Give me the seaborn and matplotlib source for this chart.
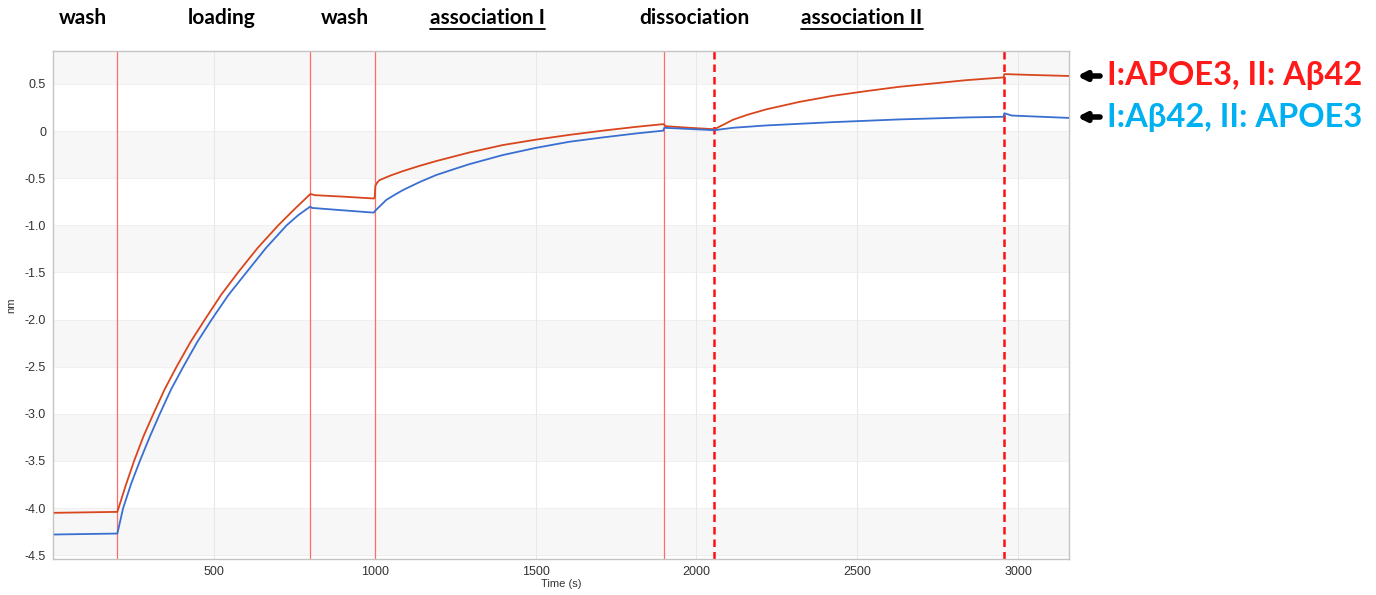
import numpy as np
import pandas as pd
import seaborn as sns
import matplotlib.pyplot as plt
from matplotlib.lines import Line2D
from matplotlib.ticker import MultipleLocator, FuncFormatter

# Sensorgram values (time in s, shift in nm)
red_time = [5, 200, 226, 252, 281, 312, 347, 384, 427, 472, 522, 575, 636, 700, 750, 800,
            815, 900, 997,
            1000, 1002, 1008, 1015, 1050, 1088, 1140, 1191, 1295, 1398, 1502, 1605, 1709, 1812, 1897,
            1905, 1980, 2056,
            2070, 2085, 2113, 2160, 2216, 2320, 2423, 2527, 2630, 2734, 2837, 2955,
            2957, 3050, 3158]
red_nm = [-4.05, -4.04, -3.76, -3.50, -3.24, -3.00, -2.74, -2.50, -2.24, -2.00, -1.74, -1.50, -1.24, -1.00, -0.83, -0.667,
          -0.68, -0.695, -0.715,
          -0.70, -0.58, -0.545, -0.52, -0.47, -0.424, -0.368, -0.318, -0.226, -0.148, -0.09, -0.04, 0.005, 0.045, 0.074,
          0.052, 0.035, 0.02,
          0.045, 0.07, 0.12, 0.175, 0.23, 0.31, 0.374, 0.424, 0.47, 0.505, 0.54, 0.57,
          0.605, 0.595, 0.585]

blue_time = [5, 200, 218, 243, 270, 300, 332, 367, 405, 448, 493, 545, 601, 662, 726, 763, 800,
             805, 900, 997,
             1000, 1015, 1036, 1060, 1088, 1140, 1191, 1245, 1295, 1398, 1502, 1605, 1709, 1812, 1897,
             1900, 1980, 2056,
             2113, 2216, 2423, 2630, 2837, 2955,
             2957, 2980, 3158]
blue_nm = [-4.28, -4.27, -4.00, -3.74, -3.50, -3.25, -3.00, -2.74, -2.50, -2.24, -2.00, -1.74, -1.50, -1.24, -1.00, -0.89, -0.80,
           -0.815, -0.84, -0.865,
           -0.85, -0.80, -0.73, -0.68, -0.625, -0.54, -0.466, -0.405, -0.35, -0.254, -0.177, -0.113, -0.067, -0.025, 0.005,
           0.035, 0.022, 0.01,
           0.035, 0.06, 0.095, 0.124, 0.145, 0.152,
           0.19, 0.165, 0.14]

step_solid = [200, 800, 1000, 1900]
step_dashed = [2056, 2955]

phase_labels = ['wash', 'loading', 'wash', 'association I', 'dissociation', 'association II']
phase_x = [83, 222, 345, 487, 694, 862]          # label centres (pixels)
phase_underlined = [False, False, False, True, False, True]

series_names = ['I:APOE3, II: A\u03b242', 'I:A\u03b242, II: APOE3']
line_colors = ['#d9461e', '#3a6fd2']
text_colors = ['#ff1a1a', '#00b0f0']

df = pd.concat([
    pd.DataFrame({'time': red_time, 'nm': red_nm, 'sample': series_names[0]}),
    pd.DataFrame({'time': blue_time, 'nm': blue_nm, 'sample': series_names[1]}),
])

sns.set_style('white')
plt.rcParams['font.family'] = ['Liberation Sans', 'DejaVu Sans']

W, H = 1376, 595
fig = plt.figure(figsize=(W / 100, H / 100), dpi=100)
ax = fig.add_axes([53 / W, 1 - 559 / H, (1069 - 53) / W, (559 - 51) / H])

ymin, ymax = -4.54, 0.85
# alternating grey bands
for lo in [-4.5, -3.5, -2.5, -1.5, -0.5, 0.5]:
    ax.axhspan(max(lo, ymin), min(lo + 0.5, ymax), color='#f7f7f7', lw=0, zorder=0)
for v in np.arange(-4.5, 0.6, 0.5):
    ax.axhline(v, color='#eeeeee', lw=0.6, zorder=0.5)
for v in range(500, 3001, 500):
    ax.axvline(v, color='#e8e8e8', lw=0.8, zorder=0.5)

for x in step_solid:
    ax.axvline(x, color='#ff6a6a', lw=0.9, zorder=1)
for x in step_dashed:
    ax.axvline(x, color='#ff1010', lw=1.8, ls=(0, (3, 2)), zorder=1)

sns.lineplot(data=df, x='time', y='nm', hue='sample', palette=line_colors,
             estimator=None, sort=False, lw=1.3, legend=False, ax=ax, zorder=3)

ax.set_xlim(0, 3158)
ax.set_ylim(ymin, ymax)
ax.xaxis.set_major_locator(MultipleLocator(500))
ax.xaxis.set_minor_locator(MultipleLocator(100))
ax.yaxis.set_major_locator(MultipleLocator(0.5))
ax.yaxis.set_minor_locator(MultipleLocator(0.1))
ax.xaxis.set_major_formatter(FuncFormatter(lambda v, p: '' if v == 0 else f'{v:.0f}'))
ax.yaxis.set_major_formatter(FuncFormatter(lambda v, p: '0' if abs(v) < 1e-9 else f'{v:.1f}'))
ax.tick_params(which='major', direction='out', length=3, color='#b0b0b0',
               labelsize=9, labelcolor='#333333', pad=2)
ax.tick_params(which='minor', direction='in', length=6, color='#c8d0e0', width=0.8)
ax.set_xlabel('Time (s)', fontsize=8, color='#333333', labelpad=1)
ax.set_ylabel('nm', fontsize=8, color='#333333', labelpad=6)
for s in ax.spines.values():
    s.set_color('#c4c4c4')
    s.set_linewidth(1.0)

# phase labels across the top
fig.canvas.draw()
renderer = fig.canvas.get_renderer()
for lab, px, und in zip(phase_labels, phase_x, phase_underlined):
    t = fig.text(px / W, 1 - 18 / H, lab, ha='center', va='center', fontsize=15,
                 fontweight='bold', family=['Lato', 'DejaVu Sans'], color='black')
    if und:
        bb = t.get_window_extent(renderer)
        yline = (bb.y0 - 1) / H
        fig.add_artist(Line2D([bb.x0 / W, bb.x1 / W], [yline, yline],
                              color='black', lw=1.3))

# series labels with arrows on the right
for name, col, py in zip(series_names, text_colors, [76, 117]):
    yf = 1 - py / H
    fig.text(1107 / W, yf, name, ha='left', va='center', fontsize=23.5,
             fontweight='bold', family=['Lato', 'DejaVu Sans'], color=col)
    ax.annotate('', xy=(1077 / W, yf), xytext=(1100 / W, yf), xycoords='figure fraction',
                textcoords='figure fraction',
                arrowprops=dict(arrowstyle='-|>', color='black', lw=4, mutation_scale=12,
                                shrinkA=0, shrinkB=0))

fig.savefig('out.png', dpi=100)
